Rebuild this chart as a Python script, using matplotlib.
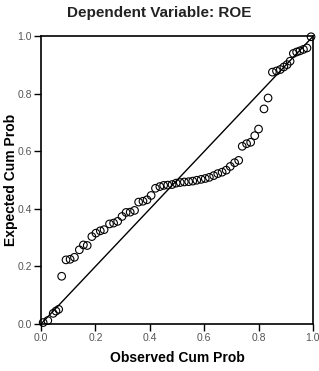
import matplotlib
matplotlib.use("Agg")
import matplotlib.pyplot as plt

# observed vs expected cumulative probability
observed = [0.008, 0.025, 0.045, 0.055, 0.065, 0.076, 0.092, 0.107, 0.123, 0.141,
            0.156, 0.170, 0.187, 0.202, 0.218, 0.232, 0.252, 0.267, 0.282, 0.298,
            0.313, 0.328, 0.344, 0.359, 0.375, 0.390, 0.405, 0.421, 0.437, 0.451,
            0.466, 0.482, 0.497, 0.512, 0.527, 0.543, 0.558, 0.573, 0.589, 0.604,
            0.619, 0.635, 0.650, 0.666, 0.681, 0.696, 0.712, 0.727, 0.740, 0.756,
            0.771, 0.786, 0.800, 0.820, 0.835, 0.851, 0.866, 0.880, 0.893, 0.905,
            0.916, 0.928, 0.940, 0.952, 0.965, 0.978, 0.993]
expected = [0.005, 0.012, 0.037, 0.045, 0.051, 0.166, 0.223, 0.225, 0.232, 0.258,
            0.275, 0.273, 0.304, 0.316, 0.324, 0.328, 0.348, 0.351, 0.357, 0.374,
            0.388, 0.389, 0.395, 0.424, 0.427, 0.432, 0.447, 0.472, 0.478, 0.482,
            0.483, 0.485, 0.490, 0.492, 0.494, 0.495, 0.497, 0.500, 0.503, 0.506,
            0.510, 0.516, 0.523, 0.528, 0.535, 0.548, 0.561, 0.569, 0.618, 0.627,
            0.632, 0.655, 0.678, 0.748, 0.786, 0.876, 0.880, 0.885, 0.894, 0.902,
            0.914, 0.941, 0.946, 0.950, 0.955, 0.960, 0.999]
ticks = [0.0, 0.2, 0.4, 0.6, 0.8, 1.0]
tick_labels = ["0.0", "0.2", "0.4", "0.6", "0.8", "1.0"]

plt.rcParams['font.family'] = ['Liberation Sans', 'DejaVu Sans']

fig = plt.figure(figsize=(3.19, 3.71), dpi=100)
ax = fig.add_axes([0.1285, 0.1267, 0.8525, 0.775])

ax.plot([0, 1], [0, 1], color='black', lw=1.0, zorder=2)
ax.scatter(observed, expected, s=30, facecolors='none', edgecolors='black',
           linewidths=0.8, zorder=3, clip_on=False)

ax.set_xlim(0, 1)
ax.set_ylim(0, 1)
ax.set_xticks(ticks)
ax.set_xticklabels(tick_labels)
ax.set_yticks(ticks)
ax.set_yticklabels(tick_labels)
ax.tick_params(direction='out', length=5, width=1, labelsize=7.5,
               labelcolor='#555555', pad=1.5)
for s in ax.spines.values():
    s.set_linewidth(1.2)

ax.set_xlabel('Observed Cum Prob', fontsize=10, fontweight='bold')
ax.xaxis.set_label_coords(0.5, -0.095)
ax.set_ylabel('Expected Cum Prob', fontsize=10, fontweight='bold')
ax.yaxis.set_label_coords(-0.085, 0.5)
fig.text(0.5, 0.965, 'Dependent Variable: ROE', ha='center', va='center',
         fontsize=11, fontweight='bold', color='#222222')

fig.savefig('out.png', dpi=100)
